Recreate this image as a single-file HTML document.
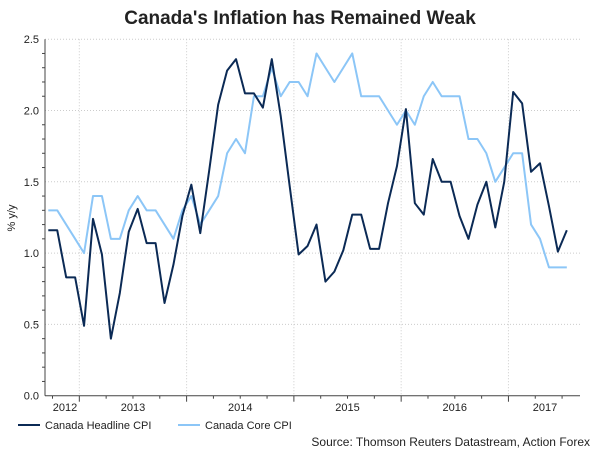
<!DOCTYPE html>
<html><head><meta charset="utf-8"><style>
body{margin:0;background:#fff;font-family:"Liberation Sans",Arial,sans-serif;}
svg text{font-family:"Liberation Sans",Arial,sans-serif;}
</style></head><body>
<svg id="chart" width="600" height="450">
<text x="300" y="24" text-anchor="middle" font-size="19" font-weight="bold" fill="#222">Canada's Inflation has Remained Weak</text>
<text transform="translate(15,218) rotate(-90)" text-anchor="middle" font-size="11" fill="#222">% y/y</text>
<g id="grid"></g><g id="axes"></g><g id="series"></g>
<g>
<line x1="18" y1="425" x2="40" y2="425" stroke="#0b2a55" stroke-width="2"/>
<text x="45" y="429" font-size="11" fill="#222">Canada Headline CPI</text>
<line x1="178" y1="425" x2="200" y2="425" stroke="#8cc6f7" stroke-width="2"/>
<text x="205" y="429" font-size="11" fill="#222">Canada Core CPI</text>
</g>
<text x="590" y="446" text-anchor="end" font-size="12" fill="#222">Source: Thomson Reuters Datastream, Action Forex</text>
</svg>
<script>
const yTicks=[0.0,0.5,1.0,1.5,2.0,2.5];
const yearLabels=["2012","2013","2014","2015","2016","2017"];
const headline=[1.16,1.16,0.83,0.83,0.49,1.24,0.99,0.40,0.72,1.15,1.31,1.07,1.07,0.65,0.92,1.26,1.48,1.14,1.58,2.04,2.28,2.36,2.12,2.12,2.02,2.36,1.96,1.47,0.99,1.05,1.20,0.80,0.87,1.02,1.27,1.27,1.03,1.03,1.35,1.61,2.01,1.35,1.27,1.66,1.50,1.50,1.26,1.10,1.34,1.50,1.18,1.50,2.13,2.05,1.57,1.63,1.33,1.01,1.16];
const core=[1.30,1.30,1.20,1.10,1.00,1.40,1.40,1.10,1.10,1.30,1.40,1.30,1.30,1.20,1.10,1.30,1.40,1.20,1.30,1.40,1.70,1.80,1.70,2.10,2.10,2.30,2.10,2.20,2.20,2.10,2.40,2.30,2.20,2.30,2.40,2.10,2.10,2.10,2.00,1.90,2.00,1.90,2.10,2.20,2.10,2.10,2.10,1.80,1.80,1.70,1.50,1.60,1.70,1.70,1.20,1.10,0.90,0.90,0.90];
const NS="http://www.w3.org/2000/svg";
const X0=48.3,DX=8.94,Y0=395.7,YS=142.6,L=45,R=580;
const xs=i=>X0+DX*i, ys=v=>Y0-v*YS;
function mk(t,a,p){const e=document.createElementNS(NS,t);for(const k in a)e.setAttribute(k,a[k]);p.appendChild(e);return e;}
const grid=document.getElementById('grid'),axes=document.getElementById('axes'),ser=document.getElementById('series');
yTicks.forEach(v=>{
 if(v>0){const g=mk('line',{x1:L,x2:R,y1:ys(v),y2:ys(v),stroke:'#ccc','stroke-dasharray':'1,2'},grid);
 
 }
 const t=mk('text',{x:39,y:ys(v)+4,'text-anchor':'end','font-size':11,fill:'#222'},axes);t.textContent=v.toFixed(1);
 
 
});
for(let k=1;k<25;k++){if(k%5)mk('line',{x1:L-3,x2:L,y1:ys(k*0.1),y2:ys(k*0.1),stroke:'#444'},axes);}
const yearStart=3.47;
for(let y=0;y<5;y++){const x=xs(yearStart+12*y);
 const g=mk('line',{x1:x,x2:x,y1:ys(2.5),y2:Y0,stroke:'#ccc','stroke-dasharray':'1,2'},grid);
 
 
 mk('line',{x1:x,x2:x,y1:Y0,y2:Y0+6,stroke:'#444'},axes);}
for(let q=-1;q<20;q++){const x=xs(yearStart+3*q);if(x>L&&x<R&&q%4)mk('line',{x1:x,x2:x,y1:Y0,y2:Y0+3,stroke:'#444'},axes);}
yearLabels.forEach((lb,j)=>{let x=j==0?65:xs(yearStart+12*(j-1)+6);if(j==5)x=545;
 const t=mk('text',{x:x,y:411,'text-anchor':'middle','font-size':11,fill:'#222'},axes);t.textContent=lb;
 
 });
mk('line',{x1:L,x2:L,y1:ys(2.5),y2:Y0,stroke:'#444'},axes);
mk('line',{x1:L,x2:R,y1:Y0,y2:Y0,stroke:'#444'},axes);
function line(d,c,n){const p=mk('polyline',{points:d.map((v,i)=>xs(i)+','+ys(v)).join(' '),fill:'none',stroke:c,'stroke-width':2,'stroke-linejoin':'round'},ser);
 
 }
line(core,'#8cc6f7','core-cpi-line');
line(headline,'#0b2a55','headline-cpi-line');
</script>
</body></html>
